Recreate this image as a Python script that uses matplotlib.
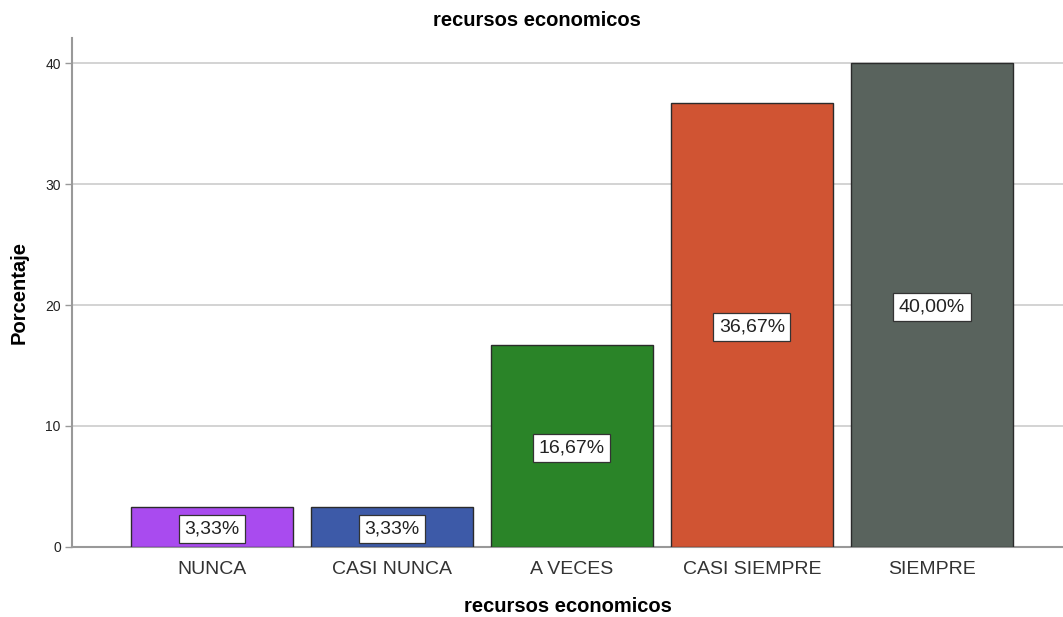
import matplotlib
matplotlib.use("Agg")
import matplotlib.pyplot as plt

# frequency table: recursos economicos
categorias = ["NUNCA", "CASI NUNCA", "A VECES", "CASI SIEMPRE", "SIEMPRE"]
porcentajes = [3.33, 3.33, 16.67, 36.67, 40.00]
colores = ["#A94BEF", "#3D5AA8", "#2A8428", "#D05433", "#59635D"]
yticks = [0, 10, 20, 30, 40]

plt.rcParams["font.family"] = ["Liberation Sans", "DejaVu Sans"]

fig = plt.figure(figsize=(10.63, 6.17), dpi=100)
ax = fig.add_axes([0.0677, 0.1135, 0.9323, 0.8249])

x = range(len(categorias))
ax.bar(x, porcentajes, width=0.9, color=colores, edgecolor="#2b2b2b",
       linewidth=1.0, zorder=3)

for i, v in enumerate(porcentajes):
    etiqueta = f"{v:.2f}%".replace(".", ",")
    ax.text(i, v / 2, etiqueta, ha="center", va="center_baseline",
            fontsize=14, color="#222222", zorder=4,
            bbox=dict(boxstyle="square,pad=0.28", facecolor="white",
                      edgecolor="#333333", linewidth=0.9))

ax.set_xlim(-0.778, 4.728)
ax.set_ylim(0, 42.07)
ax.set_yticks(yticks)
ax.set_xticks(list(x))
ax.set_xticklabels(categorias, fontsize=14, color="#333333")
ax.tick_params(axis="x", length=0, pad=10)
ax.tick_params(axis="y", length=5, width=1, color="#999999",
               labelsize=10, labelcolor="#222222", pad=3)

ax.grid(axis="y", color="#cccccc", linewidth=1.2, zorder=0)
ax.set_axisbelow(True)
for lado in ["top", "right"]:
    ax.spines[lado].set_visible(False)
ax.spines["left"].set_color("#999999")
ax.spines["left"].set_linewidth(1.5)
ax.spines["bottom"].set_color("#999999")
ax.spines["bottom"].set_linewidth(1.5)

ax.set_ylabel("Porcentaje", fontsize=14.5, fontweight="bold", labelpad=12)
ax.set_xlabel("recursos economicos", fontsize=14.5, fontweight="bold",
              labelpad=14)
fig.text(0.505, 0.967, "recursos economicos", ha="center", va="center",
         fontsize=14.5, fontweight="bold")

fig.savefig("out.png", dpi=100)
